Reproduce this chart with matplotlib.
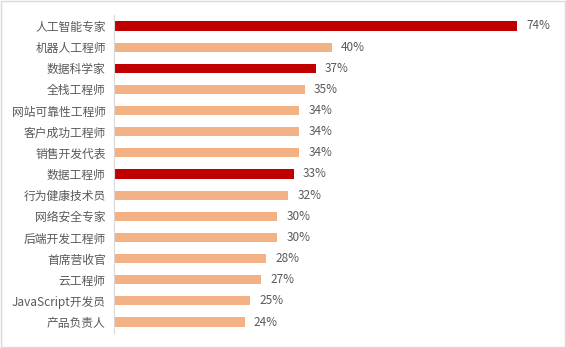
import matplotlib
matplotlib.use("Agg")
import matplotlib.pyplot as plt
from matplotlib.patches import Rectangle

plt.rcParams['font.family'] = ['Noto Sans CJK SC', 'DejaVu Sans']

# 职位与增长率（从上到下）
jobs = ["人工智能专家", "机器人工程师", "数据科学家", "全栈工程师", "网站可靠性工程师",
        "客户成功工程师", "销售开发代表", "数据工程师", "行为健康技术员", "网络安全专家",
        "后端开发工程师", "首席营收官", "云工程师", "JavaScript开发员", "产品负责人"]
growth = [74, 40, 37, 35, 34, 34, 34, 33, 32, 30, 30, 28, 27, 25, 24]
highlight = ["人工智能专家", "数据科学家", "数据工程师"]

dark = "#C00000"
light = "#F4B183"
text_color = "#595959"

fig = plt.figure(figsize=(5.66, 3.48), dpi=100)
ax = fig.add_axes([114 / 566, 15.4 / 348, 446 / 566, 317.2 / 348])

ypos = list(range(len(jobs)))
colors = [dark if j in highlight else light for j in jobs]
ax.barh(ypos, growth, height=0.43, color=colors)

for y, v in zip(ypos, growth):
    ax.text(v + 1.7, y, f"{v}%", va="center", ha="left", fontsize=8.5, color=text_color)

ax.set_ylim(len(jobs) - 0.5, -0.5)
ax.set_xlim(0, 446 / 5.446)
ax.set_yticks(ypos)
ax.set_yticklabels(jobs, fontsize=8.5, color=text_color)
ax.tick_params(axis="y", length=0, pad=6)
ax.set_xticks([])
for s in ["top", "right", "bottom"]:
    ax.spines[s].set_visible(False)
ax.spines["left"].set_color("#D9D9D9")
ax.spines["left"].set_linewidth(0.8)

# 外框
fig.patches.append(Rectangle((0.002, 0.003), 0.996, 0.994, transform=fig.transFigure,
                             fill=False, edgecolor="#D9D9D9", linewidth=1))

fig.savefig("out.png", dpi=100)
